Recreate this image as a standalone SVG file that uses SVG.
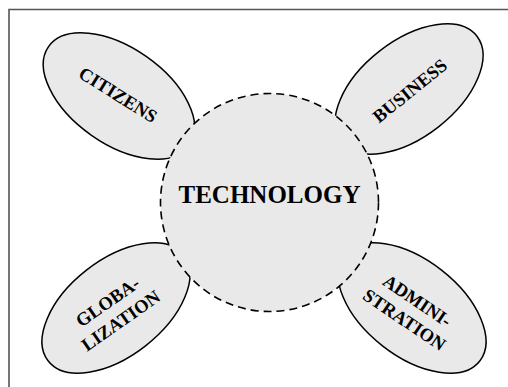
<svg xmlns="http://www.w3.org/2000/svg" width="508" height="387" viewBox="0 0 508 387">
<style>
.lobe{fill:#e9e9e9;stroke:#000;stroke-width:1.5}
.core{fill:#e9e9e9;stroke:#000;stroke-width:1.6;stroke-dasharray:8 5}
.lbl{font-family:"Liberation Serif","Times New Roman",serif;font-weight:bold;font-size:18.5px;fill:#000;text-anchor:middle}
.big{font-size:25px}
</style>
<rect width="508" height="387" fill="#fff"/>
<path d="M9 387V9.5H508" fill="none" stroke="#555" stroke-width="1.6"/>
<g id="citizens">
<ellipse class="lobe" cx="119" cy="96" rx="86" ry="48" transform="rotate(35 119 96)"/>
<text class="lbl" transform="translate(118 95) rotate(32)" y="6">CITIZENS</text>
</g>
<g id="business">
<ellipse class="lobe" cx="409" cy="89" rx="86" ry="48" transform="rotate(-38 409 89)"/>
<text class="lbl" transform="translate(410 91) rotate(-39)" y="6">BUSINESS</text>
</g>
<g id="globalization">
<ellipse class="lobe" cx="116" cy="308" rx="86" ry="48" transform="rotate(-38 116 308)"/>
<text class="lbl" transform="translate(114 311) rotate(-35)"><tspan x="0" y="-5">GLOBA-</tspan><tspan x="0" y="18">LIZATION</tspan></text>
</g>
<g id="administration">
<ellipse class="lobe" cx="412" cy="308" rx="86" ry="48" transform="rotate(38 412 308)"/>
<text class="lbl" transform="translate(411 310) rotate(34)"><tspan x="0" y="-5">ADMINI-</tspan><tspan x="0" y="18">STRATION</tspan></text>
</g>
<g id="technology">
<circle class="core" cx="269.5" cy="202.5" r="109"/>
<text class="lbl big" x="269.5" y="203">TECHNOLOGY</text>
</g>
</svg>
